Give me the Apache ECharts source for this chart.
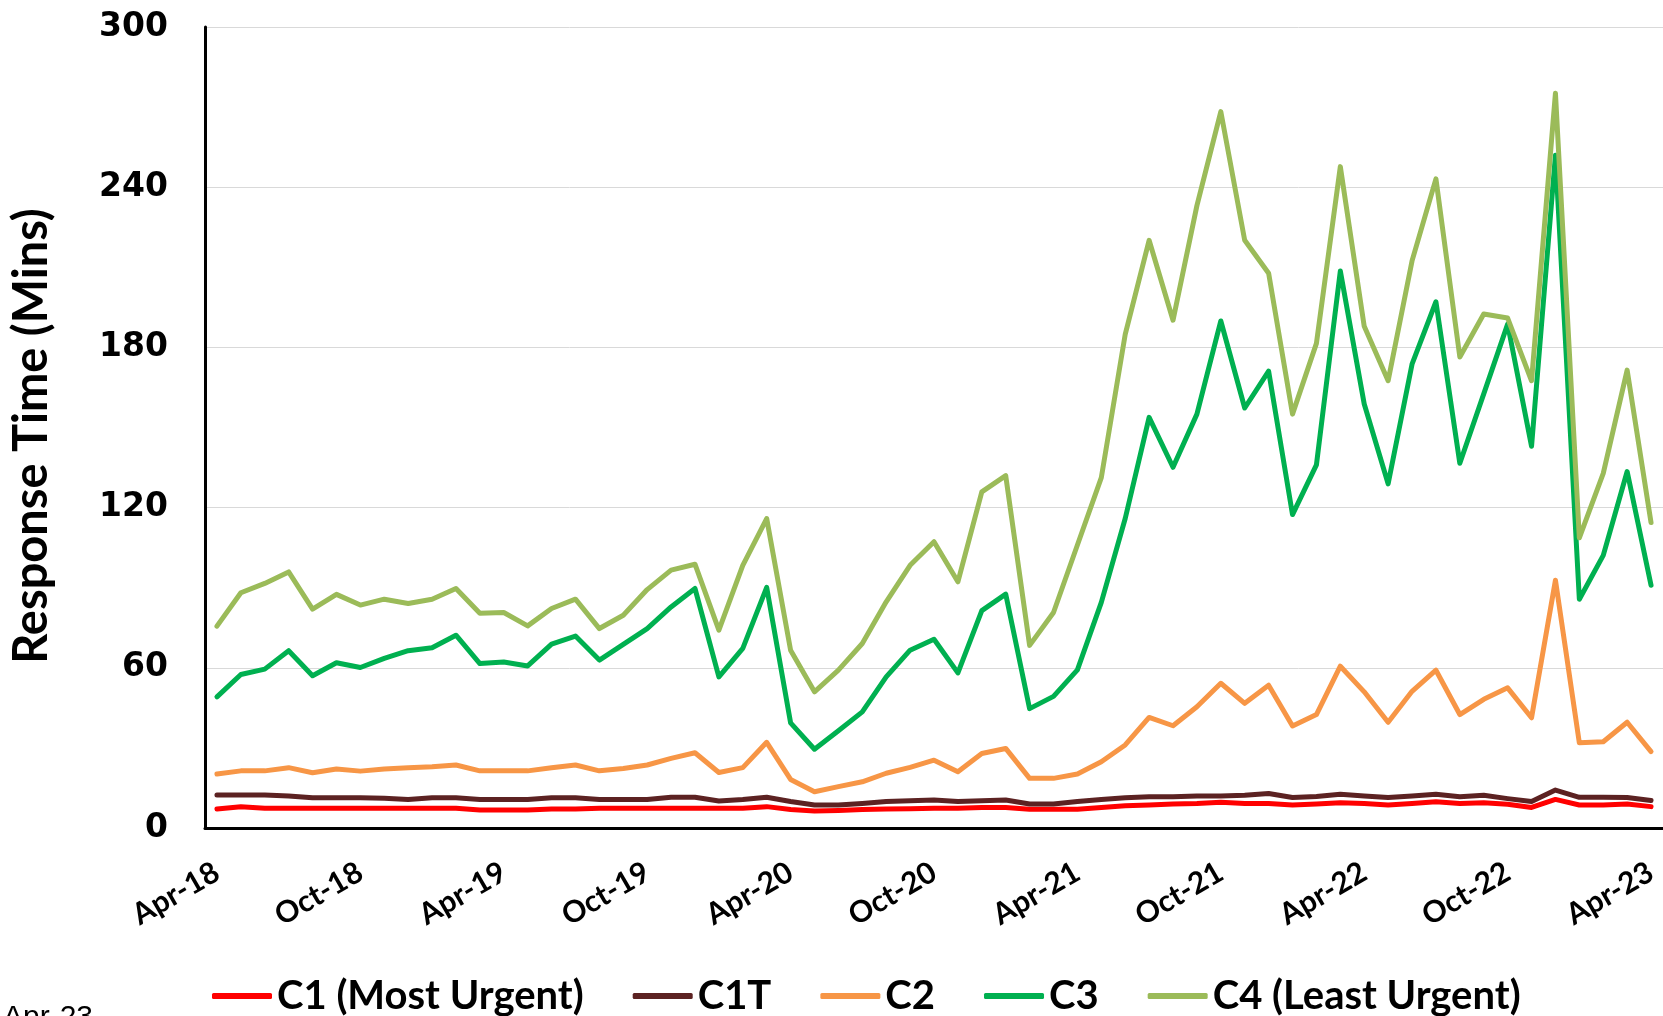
<!DOCTYPE html>
<html>
<head>
<meta charset="utf-8">
<style>
  html, body { margin: 0; padding: 0; background: #fff; }
  #chart { width: 1663px; height: 1016px; }
</style>
<script src="https://cdn.jsdelivr.net/npm/echarts@6/dist/echarts.min.js"></script>
</head>
<body>
<div id="chart"></div>
<script>
(function(){

  // months on the x axis, Apr-18 .. Apr-23
  const months = [
    'Apr-18','May-18','Jun-18','Jul-18','Aug-18','Sep-18','Oct-18','Nov-18','Dec-18','Jan-19','Feb-19','Mar-19',
    'Apr-19','May-19','Jun-19','Jul-19','Aug-19','Sep-19','Oct-19','Nov-19','Dec-19','Jan-20','Feb-20','Mar-20',
    'Apr-20','May-20','Jun-20','Jul-20','Aug-20','Sep-20','Oct-20','Nov-20','Dec-20','Jan-21','Feb-21','Mar-21',
    'Apr-21','May-21','Jun-21','Jul-21','Aug-21','Sep-21','Oct-21','Nov-21','Dec-21','Jan-22','Feb-22','Mar-22',
    'Apr-22','May-22','Jun-22','Jul-22','Aug-22','Sep-22','Oct-22','Nov-22','Dec-22','Jan-23','Feb-23','Mar-23',
    'Apr-23'
  ]

  const c1 = [
    7.1, 8.0, 7.4, 7.4, 7.4, 7.4, 7.4, 7.4, 7.4, 7.4, 7.4, 6.7, 6.7, 6.7, 7.1, 7.1,
    7.4, 7.4, 7.4, 7.4, 7.4, 7.4, 7.4, 8.0, 6.9, 6.4, 6.6, 6.9, 7.1, 7.2, 7.4, 7.4,
    7.7, 7.7, 7.0, 7.0, 7.0, 7.7, 8.3, 8.6, 9.0, 9.2, 9.6, 9.2, 9.2, 8.6, 9.0,
    9.5, 9.2, 8.6, 9.2, 9.8, 9.2, 9.5, 8.9, 7.7, 10.7, 8.6, 8.6, 9.0, 8.0
  ]
  const c1t = [
    12.4, 12.4, 12.4, 12.0, 11.3, 11.3, 11.3, 11.1, 10.7, 11.3, 11.3, 10.7, 10.7, 10.7, 11.3, 11.3,
    10.7, 10.7, 10.7, 11.5, 11.5, 10.1, 10.7, 11.5, 9.9, 8.6, 8.6, 9.2, 9.9, 10.2, 10.5, 9.9,
    10.2, 10.5, 9.0, 9.0, 9.9, 10.7, 11.3, 11.7, 11.7, 12.0, 12.0, 12.3, 12.9, 11.4, 11.8,
    12.6, 12.0, 11.4, 12.0, 12.6, 11.7, 12.3, 11.0, 9.9, 14.2, 11.5, 11.5, 11.4, 10.3
  ]
  const c2 = [
    20.2, 21.4, 21.4, 22.6, 20.7, 22.1, 21.3, 22.1, 22.6, 22.9, 23.6, 21.4, 21.4, 21.4, 22.6, 23.6,
    21.4, 22.3, 23.6, 26.1, 28.2, 20.8, 22.6, 32.1, 18.2, 13.6, 15.5, 17.3, 20.5, 22.7, 25.4, 21.1,
    27.9, 29.8, 18.6, 18.6, 20.2, 24.8, 31.1, 41.4, 38.3, 45.4, 54.2, 46.7, 53.5, 38.2, 42.5,
    60.6, 51.0, 39.6, 51.2, 59.1, 42.5, 48.2, 52.5, 41.3, 92.8, 31.9, 32.3, 39.6, 28.6
  ]
  const c3 = [
    49.1, 57.5, 59.5, 66.4, 57.0, 61.9, 60.1, 63.5, 66.4, 67.5, 72.2, 61.6, 62.2, 60.7, 68.9, 71.9,
    62.9, 68.8, 74.7, 82.8, 89.7, 56.6, 67.3, 90.1, 39.4, 29.5, 36.4, 43.5, 56.6, 66.6, 70.7, 58.1,
    81.4, 87.6, 44.7, 49.3, 59.2, 84.5, 115.9, 153.8, 135.1, 155.0, 189.9, 157.3, 171.1, 117.4, 136.0,
    208.6, 158.8, 128.9, 173.7, 197.1, 136.6, 162.6, 188.7, 143.0, 252.0, 85.7, 102.1, 133.5, 90.9
  ]
  const c4 = [
    75.6, 88.1, 91.6, 95.9, 82.0, 87.5, 83.5, 85.7, 84.1, 85.7, 89.7, 80.4, 80.7, 75.7, 82.2, 85.7,
    74.7, 79.7, 89.3, 96.6, 98.8, 74.1, 98.4, 115.9, 66.6, 51.0, 59.1, 69.1, 84.7, 98.4, 107.2, 92.2,
    125.9, 132.0, 68.4, 80.7, 106.0, 131.2, 184.9, 220.1, 190.2, 233.1, 268.3, 220.1, 207.8, 155.0, 181.5,
    247.7, 187.9, 167.5, 212.4, 243.1, 176.4, 192.5, 191.0, 167.5, 275.2, 108.7, 132.8, 171.5, 114.4
  ]

  const names = ['C1 (Most Urgent)', 'C1T', 'C2', 'C3', 'C4 (Least Urgent)']
  const values = [c1, c1t, c2, c3, c4]
  const colors = ['#ff0000', '#5c2222', '#f79646', '#00b050', '#9bbb59']

  const chart = echarts.init(document.getElementById('chart'))

  const option = {
    animation: false,
    color: colors,
    grid: {
      left: 204,
      top: 27,
      width: 1464,
      bottom: 188
    },
    legend: {
      left: 207,
      top: 971,
      icon: 'roundRect',
      itemWidth: 60,
      itemHeight: 6,
      itemGap: 49,
      textStyle: {
        fontFamily: 'Lato',
        fontWeight: 'bold',
        fontSize: 40,
        color: '#000'
      },
      data: names
    },
    graphic: [{
      type: 'text',
      left: 3,
      top: 1003,
      style: {
        text: 'Apr-23',
        font: '30px "Liberation Sans"',
        fill: '#000'
      }
    }],
    xAxis: {
      type: 'category',
      data: months,
      boundaryGap: true,
      axisLine: { lineStyle: { color: '#000', width: 3 } },
      axisTick: {
        interval: 5,
        length: 9,
        lineStyle: { color: '#000', width: 3 }
      },
      axisLabel: {
        interval: 5,
        rotate: 30,
        margin: 42,
        fontFamily: 'Lato',
        fontWeight: 'bold',
        fontSize: 30,
        color: '#000'
      },
      splitLine: { show: false }
    },
    yAxis: {
      type: 'value',
      min: 0,
      max: 300,
      interval: 60,
      name: 'Response Time (Mins)',
      nameLocation: 'middle',
      nameGap: 150,
      nameTextStyle: {
        fontFamily: 'Lato',
        fontWeight: 'bold',
        fontSize: 47,
        color: '#000',
        padding: [0, 17, 0, 0]
      },
      axisLine: { show: true, lineStyle: { color: '#000', width: 3 } },
      axisTick: { show: false },
      axisLabel: {
        margin: 37,
        fontFamily: 'DejaVu Sans',
        fontWeight: 'bold',
        fontSize: 33,
        color: '#000'
      },
      splitLine: { lineStyle: { color: '#d9d9d9', width: 1 } }
    },
    series: names.map((name, i) => ({
      name: name,
      type: 'line',
      data: values[i],
      symbol: 'none',
      lineStyle: { width: 5, cap: 'round', join: 'round' }
    }))
  }

  chart.setOption(option)
  window.addEventListener('resize', () => {
    chart.resize()
  })

})();
</script>
</body>
</html>
